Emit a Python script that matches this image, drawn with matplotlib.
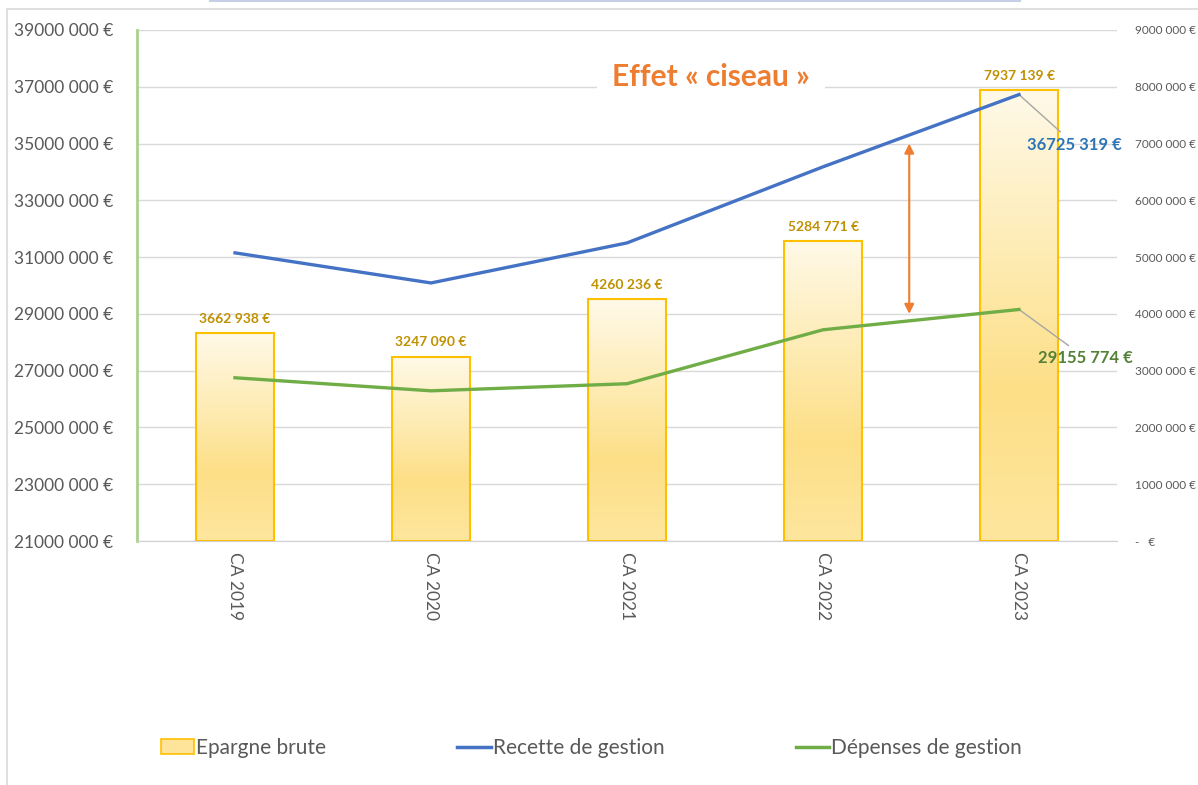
import numpy as np
import matplotlib
matplotlib.use("Agg")
from matplotlib import pyplot as plt
from matplotlib.patches import Patch, Rectangle
from matplotlib.lines import Line2D

# data
years = ["CA 2019", "CA 2020", "CA 2021", "CA 2022", "CA 2023"]
epargne_brute = [3662938, 3247090, 4260236, 5284771, 7937139]
recettes = [31150000, 30090000, 31500000, 34180000, 36725319]
depenses = [26750000, 26290000, 26540000, 28440000, 29155774]

left_ticks = list(range(21000000, 39000001, 2000000))
right_ticks = list(range(0, 9000001, 1000000))

GREY_TXT = "#595959"
BLUE = "#4472C4"
GREEN = "#70AD47"
GOLD_EDGE = "#FFC000"

plt.rcParams["font.family"] = ["Lato", "DejaVu Sans"]


def euro(v):
    '''format like the excel labels: 39000 000 €'''
    v = int(round(v))
    if v == 0:
        return "-   €"
    return "{} {:03d} €".format(v // 1000, v % 1000)


fig = plt.figure(figsize=(11.98, 7.85), dpi=100)

# outer frame of the chart + the cut-off title box at the top
fig.patches.append(Rectangle((7 / 1198, -0.01), 1.1, 1 - 9 / 785 + 0.01, transform=fig.transFigure,
                             fill=False, edgecolor="#D9D9D9", linewidth=1.2))
fig.lines.append(Line2D([210 / 1198, 1020 / 1198], [0.999, 0.999], transform=fig.transFigure,
                        color="#C5CFE6", linewidth=1.5))

ax = fig.add_axes([137 / 1198, 1 - 541 / 785, 980 / 1198, 511 / 785])
ax2 = ax.twinx()
# bars behind lines: right axis (bars) drawn first
ax.set_zorder(ax2.get_zorder() + 1)
ax.patch.set_visible(False)

x = np.arange(len(years))

# BARS (right axis) with a vertical gradient
bars = ax2.bar(x, epargne_brute, width=0.4, facecolor="none", edgecolor=GOLD_EDGE, linewidth=1.5, zorder=3)
grad = np.linspace(0, 1, 256).reshape(-1, 1)
cmap = matplotlib.colors.LinearSegmentedColormap.from_list(
    "gold", ["#FFF9E8", "#FEEDB8", "#FDDF87", "#FEE69E"])
for b in bars:
    bx, by = b.get_x(), b.get_y()
    im = ax2.imshow(grad, cmap=cmap, aspect="auto", origin="upper",
                    extent=[bx, bx + b.get_width(), by, by + b.get_height()], zorder=2)
    im.set_clip_path(b)
for b, v in zip(bars, epargne_brute):
    ax2.annotate(euro(v), (b.get_x() + b.get_width() / 2, v), xytext=(0, 6), textcoords="offset points",
                 ha="center", va="bottom", fontsize=10, fontweight="bold", color="#BF9000")

ax2.set_ylim(0, 9000000)
ax2.set_yticks(right_ticks)
ax2.set_yticklabels([euro(v) for v in right_ticks])
ax2.tick_params(axis="y", length=0, pad=13, labelsize=8.5, labelcolor=GREY_TXT)

# LINES (left axis)
ax.plot(x, recettes, color=BLUE, linewidth=2.4, zorder=4)
ax.plot(x, depenses, color=GREEN, linewidth=2.4, zorder=4)
ax.set_ylim(21000000, 39000000)
ax.set_yticks(left_ticks)
ax.set_yticklabels([euro(v) for v in left_ticks])
ax.tick_params(axis="y", length=0, pad=17, labelsize=12.5, labelcolor=GREY_TXT)
ax.set_xlim(-0.5, len(years) - 0.5)
ax.set_xticks(x)
ax.set_xticklabels(years, rotation=270)
ax.tick_params(axis="x", length=0, pad=8, labelsize=12.5, labelcolor=GREY_TXT)
ax2.set_xlim(-0.5, len(years) - 0.5)

# gridlines sit on the twin axis so they stay behind the bars
ax2.grid(axis="y", color="#D9D9D9", linewidth=1, zorder=0)
ax2.set_axisbelow(True)
for a in (ax, ax2):
    for s in ("top", "right"):
        a.spines[s].set_visible(False)
ax2.spines["left"].set_visible(False)
ax2.spines["bottom"].set_visible(False)
ax.spines["left"].set_color("#A9D18E")
ax.spines["left"].set_linewidth(2)
ax.spines["bottom"].set_color("#D0D0D0")

# last point labels with leader lines
ax.annotate(euro(recettes[-1]), (x[-1], recettes[-1]), xytext=(40, -36), textcoords="offset points",
            ha="center", va="center", fontsize=12, fontweight="bold", color="#2E75B6",
            arrowprops=dict(arrowstyle="-", color="#A6A6A6", linewidth=1, shrinkA=2, shrinkB=0))
ax.annotate(euro(depenses[-1]), (x[-1], depenses[-1]), xytext=(48, -35), textcoords="offset points",
            ha="center", va="center", fontsize=12, fontweight="bold", color="#538135",
            arrowprops=dict(arrowstyle="-", color="#A6A6A6", linewidth=1, shrinkA=2, shrinkB=0))

# scissor effect annotation
ax.annotate("", xy=(3.44, 35000000), xytext=(3.44, 29000000),
            arrowprops=dict(arrowstyle="<|-|>", color="#ED7D31", linewidth=1.5, mutation_scale=14,
                            shrinkA=0, shrinkB=0))
ax.text(2.43, 37350000, "Effet « ciseau »", ha="center", va="center", fontsize=21.5, fontweight="bold",
        color="#ED7D31", zorder=5,
        bbox=dict(boxstyle="square,pad=0.5", facecolor="white", edgecolor="none"))

# legend
handles = [Patch(facecolor="#FEE39A", edgecolor=GOLD_EDGE, linewidth=1.2),
           Line2D([0], [0], color=BLUE, linewidth=2.5),
           Line2D([0], [0], color=GREEN, linewidth=2.5)]
labels = ["Epargne brute", "Recette de gestion", "Dépenses de gestion"]
leg = fig.legend(handles, labels, loc="center left", bbox_to_anchor=(142 / 1198, 1 - 748 / 785),
                 ncol=3, frameon=False, fontsize=15, handlelength=1.6, handletextpad=0.1,
                 columnspacing=6.3)
for t in leg.get_texts():
    t.set_color(GREY_TXT)

fig.savefig("out.png", dpi=100)
